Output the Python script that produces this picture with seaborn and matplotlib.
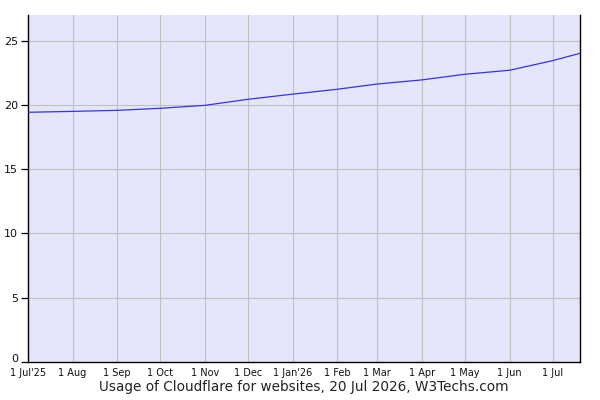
import matplotlib
matplotlib.use("Agg")
import matplotlib.pyplot as plt
import matplotlib.transforms as mtransforms
import seaborn as sns
import pandas as pd

dates = ["2025-07-01", "2025-08-01", "2025-09-01", "2025-10-01", "2025-11-01",
         "2025-12-01", "2026-01-01", "2026-02-01", "2026-03-01", "2026-04-01",
         "2026-05-01", "2026-06-01", "2026-07-01", "2026-07-20"]
usage = [19.43, 19.5, 19.58, 19.74, 19.97, 20.44, 20.84, 21.22, 21.63, 21.95,
         22.39, 22.7, 23.45, 24.02]
tick_dates = ["2025-07-01", "2025-08-01", "2025-09-01", "2025-10-01", "2025-11-01",
              "2025-12-01", "2026-01-01", "2026-02-01", "2026-03-01", "2026-04-01",
              "2026-05-01", "2026-06-01", "2026-07-01"]
tick_labels = ["1 Jul'25", "1 Aug", "1 Sep", "1 Oct", "1 Nov", "1 Dec", "1 Jan'26",
               "1 Feb", "1 Mar", "1 Apr", "1 May", "1 Jun", "1 Jul"]
y_ticks = [0, 5, 10, 15, 20, 25]
title = "Usage of Cloudflare for websites, 20 Jul 2026, W3Techs.com"

sns.set_style("white")
plt.rcParams['font.family'] = ['DejaVu Sans']

df = pd.DataFrame({"date": pd.to_datetime(dates), "usage": usage})

fig = plt.figure(figsize=(6, 4), dpi=100)
ax = fig.add_axes([28/600, 38/400, 552/600, 347/400])
ax.set_facecolor("#E6E6FA")

sns.lineplot(data=df, x="date", y="usage", ax=ax, color="#3333EE", linewidth=0.9, zorder=3)

ax.set_xlim(pd.Timestamp("2025-07-01"), pd.Timestamp("2026-07-20"))
ax.set_ylim(0, 27)
ax.set_xticks(pd.to_datetime(tick_dates))
ax.set_xticklabels(tick_labels, fontsize=7, color="#111111")
ax.set_yticks(y_ticks)
ax.set_yticklabels([str(v) for v in y_ticks], fontsize=8, color="#111111")

ax.grid(True, color="#C0C0C0", linewidth=0.8, zorder=0)
ax.set_axisbelow(True)

ax.tick_params(axis="x", length=0, pad=4)
ax.tick_params(axis="y", length=5, width=0.9, color="black", pad=2, left=True)

# lift the "0" label slightly, as in the reference
zero_lbl = ax.get_yticklabels()[0]
zero_lbl.set_transform(zero_lbl.get_transform() +
                       mtransforms.ScaledTranslation(0, 3/72, fig.dpi_scale_trans))

for s in ["left", "bottom", "right"]:
    ax.spines[s].set_visible(True)
    ax.spines[s].set_color("black")
    ax.spines[s].set_linewidth(1.0)
ax.spines["top"].set_visible(False)

ax.set_xlabel(title, fontsize=9.8, color="#222222", labelpad=2)
ax.set_ylabel("")

fig.savefig("out.png", dpi=100)
